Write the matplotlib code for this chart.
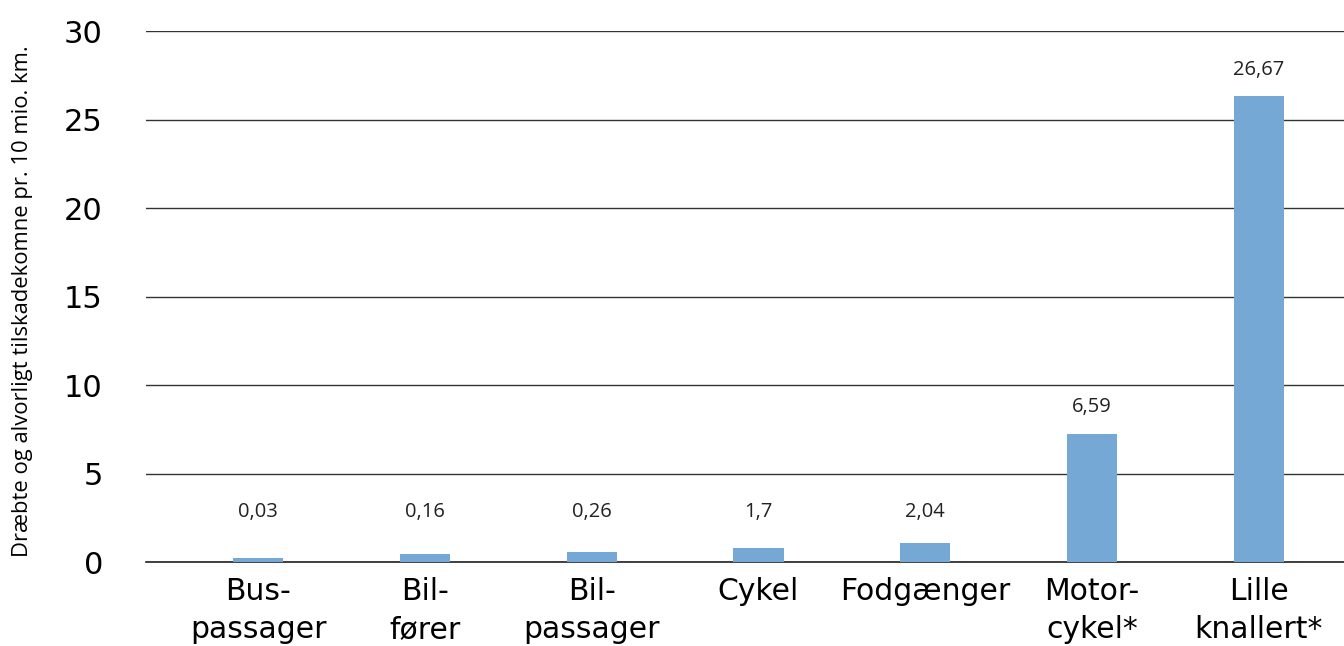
import matplotlib
matplotlib.use("Agg")
import matplotlib.pyplot as plt

# data
categories = ["Bus-\npassager", "Bil-\nfører", "Bil-\npassager", "Cykel",
              "Fodgænger", "Motor-\ncykel*", "Lille\nknallert*"]
bar_heights = [0.25, 0.47, 0.58, 0.8, 1.07, 7.24, 26.3]
value_labels = ["0,03", "0,16", "0,26", "1,7", "2,04", "6,59", "26,67"]
yticks = [0, 5, 10, 15, 20, 25, 30]

plt.rcParams['font.family'] = ['DejaVu Sans']

fig = plt.figure(figsize=(13.44, 6.46), dpi=100)
ax = fig.add_axes([0.1086, 0.130, 0.8914, 0.822])

x = list(range(len(categories)))
ax.bar(x, bar_heights, width=0.3, color='#76A8D6', zorder=3)

# value labels above bars
for xi, h, lab in zip(x, bar_heights, value_labels):
    ax.text(xi, max(h + 1.5, 2.8), lab, ha='center', va='center',
            fontsize=14.5, color='#222222', family=['Open Sans', 'DejaVu Sans'],
            fontstretch='normal', fontweight='normal')

ax.set_ylim(0, 30)
ax.set_xlim(-0.672, 6.51)
ax.set_yticks(yticks)
ax.set_yticklabels([str(t) for t in yticks], fontsize=22)
ax.set_xticks(x)
ax.set_xticklabels(categories, fontsize=21.5, linespacing=1.4)
ax.tick_params(axis='y', length=0, pad=31)
ax.tick_params(axis='x', length=0, pad=11)

ax.grid(axis='y', color='#333333', linewidth=1, zorder=0)
for s in ['top', 'right', 'left']:
    ax.spines[s].set_visible(False)
ax.spines['bottom'].set_color('#222222')
ax.spines['bottom'].set_linewidth(1.2)

ax.set_ylabel('Dræbte og alvorligt tilskadekomne pr. 10 mio. km.', fontsize=15.8,
              family=['Open Sans', 'DejaVu Sans'], fontstretch='normal',
              fontweight='normal')
ax.yaxis.set_label_coords(-0.0945, 0.492)

fig.savefig('out.png', dpi=100)
